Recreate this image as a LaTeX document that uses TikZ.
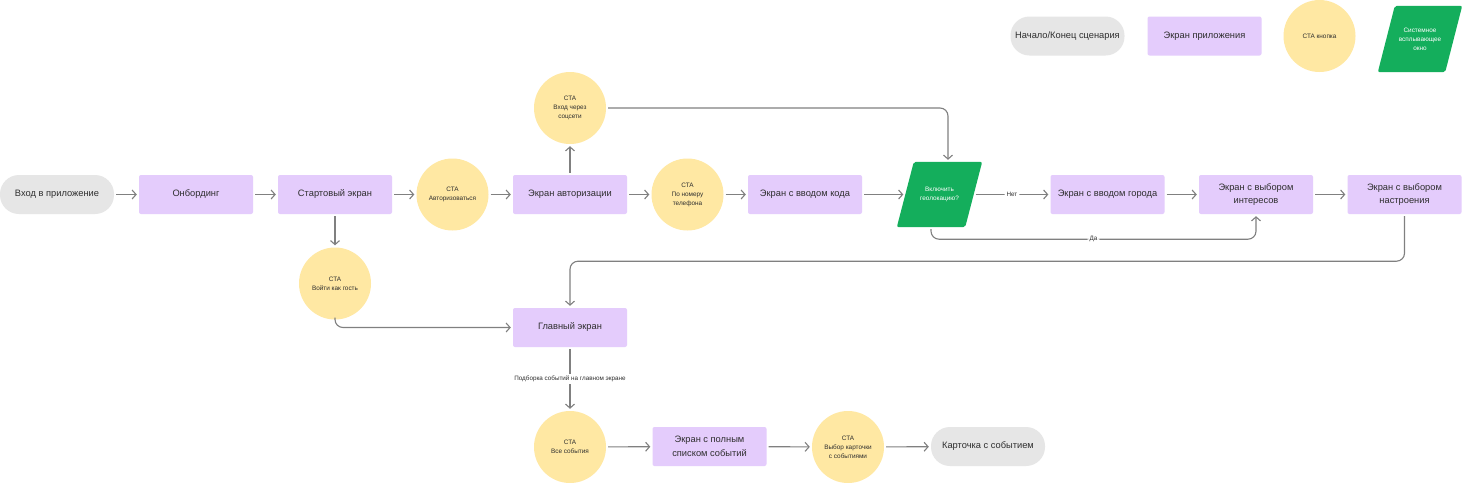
\documentclass[tikz,border=0pt]{standalone}
\usepackage{fontspec}
\setmainfont{Liberation Sans}
\usetikzlibrary{arrows.meta,backgrounds}
\definecolor{scr}{HTML}{E4CCFC}
\definecolor{termc}{HTML}{E6E6E6}
\definecolor{ctac}{HTML}{FFE8A3}
\definecolor{sysc}{HTML}{14AE5C}
\definecolor{linec}{HTML}{808080}
\definecolor{txt}{HTML}{2E2E2E}
\tikzset{
  bigfont/.style={font=\fontsize{9.3pt}{13.5pt}\selectfont},
  smallfont/.style={font=\fontsize{6.4pt}{9pt}\selectfont},
  screen/.style={rectangle, fill=scr, rounded corners=2pt, minimum width=114pt, minimum height=39pt, inner sep=0pt, align=center, text=txt, bigfont},
  term/.style={rectangle, fill=termc, rounded corners=19pt, minimum width=114pt, minimum height=39pt, inner sep=0pt, align=center, text=txt, bigfont},
  cta/.style={circle, fill=ctac, minimum size=72pt, inner sep=0pt, align=center, text=txt, smallfont},
  sysbox/.style={rectangle, minimum width=68pt, minimum height=65pt, inner sep=0pt, align=center, text=white, smallfont},
  sysfill/.style={fill=sysc, rounded corners=2pt},
  conn/.style={draw=linec, line width=1.1pt, rounded corners=8pt, shorten <=2pt, shorten >=2pt, -{Straight Barb[length=4pt,width=9pt]}},
  lbl/.style={fill=white, text=txt, inner sep=2pt, font=\fontsize{6.3pt}{7pt}\selectfont}
}
\begin{document}
\begin{tikzpicture}[x=1pt,y=-1pt]
\useasboundingbox (0,0) rectangle (1462,483);
\begin{pgfonlayer}{background}
\fill[white] (0,0) rectangle (1462,483);
\end{pgfonlayer}
% legend
\node[term] (lterm) at (1067.5,36) {Начало/Конец сценария};
\node[screen] (lscreen) at (1204.5,36) {Экран приложения};
\node[cta] (lcta) at (1319.5,36) {CTA кнопка};
\node[sysbox, minimum width=67pt, minimum height=66pt] (lsys) at (1420,39) {Системное\\всплывающее\\окно};
% row 1
\node[term] (entry) at (57,194.5) {Вход в приложение};
\node[screen] (onb) at (196,194.5) {Онбординг};
\node[screen] (start) at (335,194.5) {Стартовый экран};
\node[cta] (ctaauth) at (452.5,194.5) {CTA\\Авторизоваться};
\node[screen] (auth) at (570,194.5) {Экран авторизации};
\node[cta] (social) at (570,108) {CTA\\Вход через\\соцсети};
\node[cta] (phone) at (687.5,194.5) {CTA\\По номеру\\телефона};
\node[screen] (code) at (805,194.5) {Экран с вводом кода};
\node[sysbox] (geo) at (939.5,194.5) {Включить\\геолокацию?};
\node[screen] (city) at (1107.5,194.5) {Экран с вводом города};
\node[screen] (interests) at (1256,194.5) {Экран с выбором\\интересов};
\node[screen] (mood) at (1404.5,194.5) {Экран с выбором\\настроения};
% lower
\node[cta] (guest) at (335,283.5) {CTA\\Войти как гость};
\node[screen] (main) at (570,327.5) {Главный экран};
\node[cta] (all) at (570,447) {CTA\\Все события};
\node[screen] (list) at (709.5,446.5) {Экран с полным\\списком событий};
\node[cta] (pick) at (848,447) {CTA\\Выбор карточки\\с событиями};
\node[term] (card) at (988,446.5) {Карточка с событием};
% parallelograms
\begin{pgfonlayer}{background}
\fill[sysfill] ([xshift=8.5pt]geo.north west) -- ([xshift=8.5pt]geo.north east) -- ([xshift=-8.5pt]geo.south east) -- ([xshift=-8.5pt]geo.south west) -- cycle;
\fill[sysfill] ([xshift=8.5pt]lsys.north west) -- ([xshift=8.5pt]lsys.north east) -- ([xshift=-8.5pt]lsys.south east) -- ([xshift=-8.5pt]lsys.south west) -- cycle;
\end{pgfonlayer}
% connectors
\draw[conn] (entry) -- (onb);
\draw[conn] (onb) -- (start);
\draw[conn] (start) -- (ctaauth);
\draw[conn] (ctaauth) -- (auth);
\draw[conn] (start) -- (guest);
\draw[conn] (guest.south) |- (main.west);
\draw[conn] (auth) -- (social);
\draw[conn] (social.east) -| ([xshift=8.5pt]geo.north);
\draw[conn] (auth) -- (phone);
\draw[conn] (phone) -- (code);
\draw[conn] (code) -- (geo.west);
\draw[conn] (geo.east) -- node[lbl] {Нет} (city);
\draw[conn] ([xshift=-8.5pt]geo.south) -- ++(0,12) -| node[lbl, pos=0.25] {Да} (interests.south);
\draw[conn] (city) -- (interests);
\draw[conn] (interests) -- (mood);
\draw[conn] (mood.south) -- ++(0,47) -| (main.north);
\draw[conn] (main) -- node[lbl] {Подборка событий на главном экране} (all);
\draw[conn] (all) -- (list);
\draw[conn] (list) -- (pick);
\draw[conn] (pick) -- (card);
\end{tikzpicture}
\end{document}
